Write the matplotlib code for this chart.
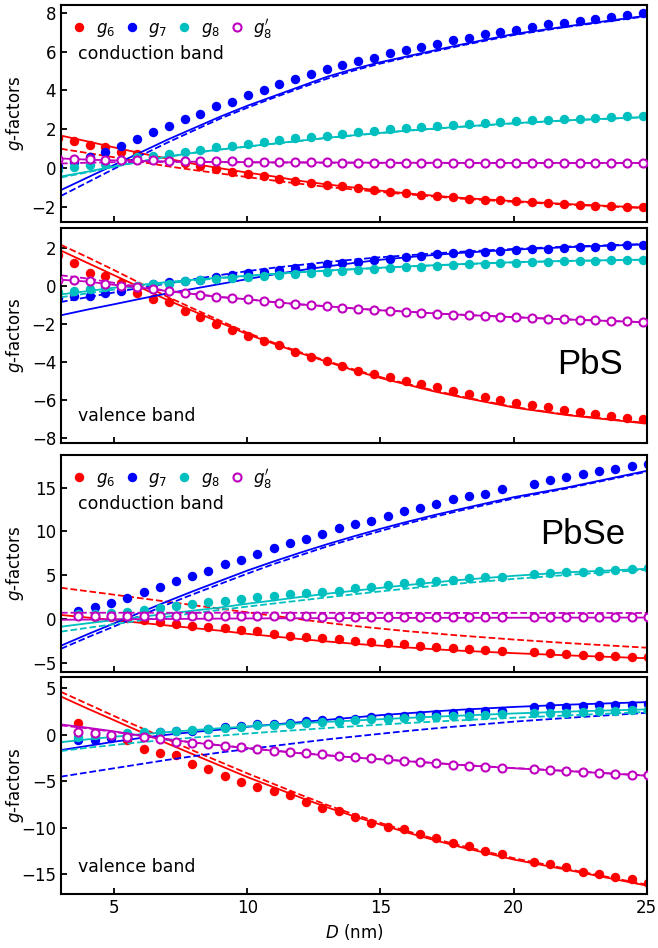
import matplotlib
matplotlib.use('Agg')
import matplotlib.pyplot as plt

plt.rcParams['font.family'] = 'DejaVu Sans'
plt.rcParams['mathtext.fontset'] = 'dejavusans'
plt.rcParams['font.size'] = 12

# dot sizes (nm) for the two materials, and the grid used for the model curves
D_pbs = [2.89, 3.48, 4.08, 4.67, 5.26, 5.86, 6.45, 7.05, 7.64, 8.23, 8.83, 9.42,
         10.01, 10.61, 11.20, 11.79, 12.39, 12.98, 13.57, 14.17, 14.76, 15.36,
         15.95, 16.54, 17.14, 17.73, 18.32, 18.92, 19.51, 20.10, 20.70, 21.29,
         21.88, 22.48, 23.07, 23.67, 24.26, 24.85]
D_pbse = [3.65, 4.26, 4.87, 5.48, 6.10, 6.71, 7.32, 7.93, 8.54, 9.15, 9.77, 10.38,
          10.99, 11.60, 12.21, 12.82, 13.43, 14.05, 14.66, 15.27, 15.88, 16.49,
          17.10, 17.72, 18.33, 18.94, 19.55, 20.77, 21.38, 21.99, 22.61, 23.22,
          23.83, 24.44, 25.05]
D_fit = [3, 4, 5, 6, 7, 8, 9, 10, 11, 12, 13, 14, 15, 16, 17, 18, 20, 22, 25]

# ---------------- PbS, conduction band ----------------
pbs_cb_g6 = [1.52, 1.37, 1.19, 1.06, 0.83, 0.70, 0.55, 0.40, 0.25, 0.07, -0.06, -0.20,
             -0.32, -0.45, -0.60, -0.67, -0.79, -0.88, -0.93, -1.05, -1.15, -1.24,
             -1.31, -1.39, -1.45, -1.51, -1.59, -1.64, -1.67, -1.72, -1.77, -1.81,
             -1.86, -1.90, -1.95, -1.98, -2.02, -2.05]
pbs_cb_g7 = [0.10, 0.30, 0.55, 0.80, 1.14, 1.49, 1.83, 2.18, 2.53, 2.79, 3.17, 3.42,
             3.74, 4.03, 4.34, 4.56, 4.82, 5.08, 5.29, 5.50, 5.69, 5.93, 6.07, 6.24,
             6.41, 6.59, 6.70, 6.88, 7.02, 7.12, 7.26, 7.40, 7.48, 7.59, 7.69, 7.79,
             7.87, 7.97]
pbs_cb_g8 = [-0.10, 0.02, 0.14, 0.22, 0.38, 0.54, 0.63, 0.71, 0.80, 0.92, 1.06, 1.14,
             1.23, 1.33, 1.42, 1.52, 1.60, 1.66, 1.75, 1.83, 1.92, 2.01, 2.06, 2.13,
             2.18, 2.23, 2.27, 2.32, 2.35, 2.40, 2.46, 2.49, 2.51, 2.54, 2.58, 2.61,
             2.65, 2.66]
pbs_cb_g8p = [0.45, 0.47, 0.45, 0.42, 0.40, 0.40, 0.38, 0.37, 0.36, 0.35, 0.34, 0.33,
              0.32, 0.31, 0.30, 0.30, 0.29, 0.28, 0.27, 0.27, 0.26, 0.26, 0.26, 0.25,
              0.25, 0.25, 0.25, 0.25, 0.25, 0.25, 0.25, 0.25, 0.25, 0.25, 0.25, 0.25,
              0.25, 0.25]
pbs_cb_g6_fit = [1.66, 1.36, 1.05, 0.75, 0.47, 0.20, -0.03, -0.25, -0.45, -0.68, -0.86,
                 -1.02, -1.18, -1.32, -1.44, -1.55, -1.72, -1.87, -2.06]
pbs_cb_g6_fit2 = [0.98, 0.76, 0.54, 0.30, 0.08, -0.12, -0.30, -0.48, -0.66, -0.83, -0.99,
                  -1.12, -1.25, -1.37, -1.48, -1.59, -1.76, -1.90, -2.09]
pbs_cb_g7_fit = [-1.15, -0.50, 0.15, 0.80, 1.45, 2.05, 2.65, 3.20, 3.70, 4.20, 4.70,
                 5.10, 5.45, 5.75, 6.05, 6.35, 6.90, 7.30, 7.85]
pbs_cb_g7_fit2 = [-1.45, -0.75, -0.05, 0.63, 1.30, 1.93, 2.55, 3.10, 3.62, 4.12, 4.60,
                  5.02, 5.38, 5.70, 6.00, 6.30, 6.85, 7.27, 7.82]
pbs_cb_g8_fit = [-0.45, -0.20, 0.07, 0.33, 0.58, 0.78, 0.95, 1.10, 1.25, 1.40, 1.55,
                 1.68, 1.80, 1.92, 2.02, 2.12, 2.30, 2.45, 2.62]
pbs_cb_g8_fit2 = [-0.50, -0.23, 0.05, 0.32, 0.56, 0.77, 0.94, 1.09, 1.24, 1.39, 1.54,
                  1.67, 1.79, 1.91, 2.01, 2.11, 2.29, 2.44, 2.61]
pbs_cb_g8p_fit = [0.48, 0.42, 0.38, 0.35, 0.33, 0.31, 0.30, 0.29, 0.28, 0.28, 0.27,
                  0.27, 0.26, 0.26, 0.26, 0.25, 0.25, 0.25, 0.25]
pbs_cb_g8p_fit2 = [0.22, 0.26, 0.29, 0.30, 0.30, 0.30, 0.29, 0.28, 0.27, 0.27, 0.26,
                   0.26, 0.25, 0.25, 0.25, 0.24, 0.24, 0.24, 0.24]

# ---------------- PbS, valence band ----------------
pbs_vb_g6 = [1.62, 1.20, 0.67, 0.49, 0.16, -0.40, -0.70, -0.86, -1.31, -1.66, -2.03,
             -2.34, -2.63, -2.89, -3.12, -3.47, -3.76, -3.94, -4.20, -4.47, -4.64,
             -4.78, -5.01, -5.18, -5.34, -5.54, -5.69, -5.84, -6.01, -6.15, -6.27,
             -6.39, -6.54, -6.66, -6.76, -6.85, -6.94, -7.03]
pbs_vb_g7 = [-0.62, -0.55, -0.55, -0.40, -0.26, -0.06, 0.10, 0.20, 0.24, 0.32, 0.45,
             0.55, 0.66, 0.74, 0.83, 0.92, 1.01, 1.13, 1.18, 1.27, 1.36, 1.41, 1.50,
             1.58, 1.66, 1.71, 1.74, 1.79, 1.85, 1.88, 1.92, 1.95, 1.98, 2.02, 2.05,
             2.09, 2.14, 2.17]
pbs_vb_g8 = [-0.35, -0.26, -0.17, -0.08, -0.02, 0.00, 0.07, 0.12, 0.23, 0.29, 0.35,
             0.41, 0.47, 0.54, 0.57, 0.62, 0.66, 0.71, 0.77, 0.83, 0.88, 0.92, 0.97,
             1.01, 1.04, 1.09, 1.13, 1.16, 1.18, 1.22, 1.24, 1.27, 1.29, 1.31, 1.32,
             1.34, 1.36, 1.38]
pbs_vb_g8p = [0.31, 0.30, 0.23, 0.09, -0.02, -0.07, -0.16, -0.30, -0.39, -0.48, -0.57,
              -0.66, -0.71, -0.80, -0.89, -0.96, -1.01, -1.08, -1.15, -1.21, -1.27,
              -1.31, -1.36, -1.42, -1.47, -1.52, -1.55, -1.59, -1.63, -1.66, -1.69,
              -1.73, -1.76, -1.80, -1.82, -1.84, -1.87, -1.91]
pbs_vb_g6_fit = [1.85, 1.20, 0.55, -0.10, -0.75, -1.35, -1.95, -2.55, -3.05, -3.55,
                 -4.00, -4.45, -4.85, -5.20, -5.55, -5.85, -6.40, -6.80, -7.25]
pbs_vb_g6_fit2 = [2.15, 1.50, 0.82, 0.12, -0.58, -1.22, -1.85, -2.47, -3.00, -3.50,
                  -3.96, -4.40, -4.80, -5.16, -5.50, -5.82, -6.37, -6.78, -7.22]
pbs_vb_g7_fit = [-1.55, -1.25, -0.97, -0.68, -0.40, -0.15, 0.10, 0.35, 0.60, 0.82,
                 1.02, 1.20, 1.37, 1.50, 1.62, 1.73, 1.90, 2.03, 2.18]
pbs_vb_g7_fit2 = [-0.85, -0.60, -0.35, -0.10, 0.12, 0.35, 0.57, 0.77, 0.95, 1.10,
                  1.25, 1.38, 1.50, 1.60, 1.70, 1.79, 1.94, 2.06, 2.20]
pbs_vb_g8_fit = [-0.45, -0.28, -0.10, 0.05, 0.20, 0.32, 0.43, 0.53, 0.63, 0.72, 0.80,
                 0.88, 0.95, 1.02, 1.08, 1.14, 1.24, 1.31, 1.38]
pbs_vb_g8_fit2 = [-0.60, -0.40, -0.20, -0.02, 0.14, 0.28, 0.40, 0.51, 0.61, 0.71,
                  0.79, 0.87, 0.94, 1.01, 1.07, 1.13, 1.23, 1.30, 1.37]
pbs_vb_g8p_fit = [0.32, 0.22, 0.05, -0.10, -0.28, -0.44, -0.60, -0.71, -0.86, -0.98,
                  -1.08, -1.19, -1.29, -1.36, -1.45, -1.52, -1.65, -1.77, -1.92]
pbs_vb_g8p_fit2 = [0.55, 0.38, 0.15, -0.06, -0.26, -0.43, -0.59, -0.71, -0.86, -0.98,
                   -1.08, -1.19, -1.29, -1.36, -1.45, -1.52, -1.65, -1.77, -1.92]

# ---------------- PbSe, conduction band ----------------
pbse_cb_g6 = [0.45, 0.32, 0.22, 0.10, -0.08, -0.27, -0.49, -0.73, -0.88, -1.02, -1.16,
              -1.29, -1.67, -1.86, -1.98, -2.09, -2.24, -2.47, -2.55, -2.73, -2.84,
              -3.00, -3.11, -3.23, -3.38, -3.49, -3.60, -3.75, -3.86, -3.98, -4.06,
              -4.14, -4.20, -4.28, -4.32]
pbse_cb_g7 = [0.98, 1.36, 1.86, 2.45, 3.10, 3.70, 4.33, 4.92, 5.55, 6.32, 6.78, 7.42,
              8.07, 8.70, 9.20, 9.69, 10.34, 10.80, 11.17, 11.77, 12.31, 12.68, 13.10,
              13.64, 14.01, 14.32, 14.81, 15.45, 15.91, 16.20, 16.59, 16.85, 17.16,
              17.42, 17.73]
pbse_cb_g8 = [0.62, 0.66, 0.72, 0.83, 1.06, 1.25, 1.49, 1.72, 1.96, 2.14, 2.33, 2.57,
              2.68, 2.84, 3.02, 3.14, 3.25, 3.52, 3.70, 3.90, 4.09, 4.27, 4.35, 4.50,
              4.66, 4.77, 4.84, 5.18, 5.30, 5.34, 5.41, 5.52, 5.60, 5.72, 5.80]
pbse_cb_g8p = [0.40, 0.38, 0.37, 0.36, 0.36, 0.35, 0.35, 0.35, 0.34, 0.34, 0.34, 0.33,
               0.33, 0.33, 0.33, 0.32, 0.32, 0.32, 0.31, 0.31, 0.31, 0.31, 0.30, 0.30,
               0.30, 0.30, 0.30, 0.30, 0.30, 0.30, 0.30, 0.30, 0.30, 0.30, 0.30]
pbse_cb_g6_fit = [0.50, 0.20, -0.10, -0.40, -0.70, -1.00, -1.30, -1.65, -1.95, -2.25,
                  -2.52, -2.78, -3.00, -3.20, -3.40, -3.57, -3.85, -4.10, -4.43]
pbse_cb_g6_fit2 = [3.59, 3.20, 2.80, 2.40, 2.00, 1.60, 1.20, 0.80, 0.40, 0.00, -0.40,
                   -0.75, -1.05, -1.35, -1.60, -1.85, -2.30, -2.70, -3.23]
pbse_cb_g7_fit = [-3.00, -1.70, -0.45, 0.80, 2.05, 3.25, 4.40, 5.55, 6.60, 7.60, 8.55,
                  9.45, 10.30, 11.10, 11.85, 12.55, 13.90, 15.00, 16.90]
pbse_cb_g7_fit2 = [-3.35, -2.05, -0.80, 0.45, 1.70, 2.90, 4.05, 5.20, 6.30, 7.30, 8.30,
                   9.20, 10.05, 10.90, 11.65, 12.38, 13.75, 14.90, 16.80]
pbse_cb_g8_fit = [-0.84, -0.45, -0.08, 0.28, 0.64, 1.00, 1.35, 1.78, 2.15, 2.55, 2.92,
                  3.25, 3.58, 3.90, 4.20, 4.48, 4.95, 5.35, 5.75]
pbse_cb_g8_fit2 = [-1.40, -0.97, -0.55, -0.12, 0.30, 0.70, 1.08, 1.45, 1.80, 2.15,
                   2.50, 2.85, 3.18, 3.50, 3.80, 4.08, 4.60, 5.05, 5.65]
pbse_cb_g8p_fit = [-0.05, -0.03, 0.00, 0.02, 0.04, 0.06, 0.08, 0.10, 0.11, 0.12, 0.13,
                   0.14, 0.15, 0.16, 0.17, 0.17, 0.18, 0.19, 0.20]
pbse_cb_g8p_fit2 = [0.75, 0.75, 0.75, 0.75, 0.75, 0.75, 0.75, 0.75, 0.75, 0.74, 0.74,
                    0.74, 0.74, 0.73, 0.73, 0.73, 0.73, 0.72, 0.72]

# ---------------- PbSe, valence band ----------------
pbse_vb_g6 = [1.21, 0.00, -0.25, -0.58, -1.57, -2.01, -2.20, -3.12, -3.72, -4.44,
              -5.07, -5.66, -6.02, -6.48, -7.26, -7.90, -8.19, -8.87, -9.45, -9.94,
              -10.16, -10.69, -11.12, -11.59, -11.95, -12.45, -12.80, -13.63, -13.87,
              -14.23, -14.70, -14.98, -15.24, -15.51, -15.88]
pbse_vb_g7 = [-0.55, -0.62, -0.40, -0.20, 0.08, 0.25, 0.35, 0.45, 0.58, 0.80, 0.90,
              1.10, 1.20, 1.31, 1.45, 1.56, 1.56, 1.74, 1.91, 1.91, 2.02, 2.10, 2.27,
              2.34, 2.45, 2.56, 2.56, 2.99, 3.06, 2.99, 3.09, 3.17, 3.20, 3.24, 3.35]
pbse_vb_g8 = [-0.20, -0.05, -0.05, 0.13, 0.24, 0.31, 0.40, 0.52, 0.57, 0.70, 0.80,
              1.00, 1.09, 1.20, 1.27, 1.38, 1.38, 1.56, 1.67, 1.67, 1.81, 1.91, 1.91,
              1.99, 1.99, 2.10, 2.20, 2.34, 2.38, 2.38, 2.45, 2.52, 2.56, 2.63, 2.70]
pbse_vb_g8p = [0.31, 0.22, -0.05, -0.23, -0.23, -0.48, -0.77, -0.90, -1.01, -1.21,
               -1.33, -1.55, -1.76, -1.84, -2.01, -2.12, -2.30, -2.44, -2.55, -2.65,
               -2.83, -2.97, -3.08, -3.26, -3.34, -3.45, -3.55, -3.72, -3.80, -3.91,
               -4.01, -4.09, -4.23, -4.34, -4.37]
pbse_vb_g6_fit = [4.10, 2.80, 1.55, 0.30, -0.95, -2.15, -3.35, -4.55, -5.65, -6.75,
                  -7.80, -8.75, -9.65, -10.50, -11.30, -12.05, -13.40, -14.50, -16.20]
pbse_vb_g6_fit2 = [4.60, 3.30, 2.00, 0.75, -0.50, -1.75, -2.95, -4.15, -5.30, -6.45,
                   -7.55, -8.55, -9.47, -10.35, -11.15, -11.90, -13.25, -14.40, -16.10]
pbse_vb_g7_fit = [-1.65, -1.20, -0.75, -0.35, 0.00, 0.30, 0.55, 0.85, 1.10, 1.35, 1.60,
                  1.85, 2.10, 2.30, 2.50, 2.68, 2.98, 3.22, 3.50]
pbse_vb_g7_fit2 = [-4.50, -4.05, -3.60, -3.15, -2.70, -2.30, -1.90, -1.55, -1.20, -0.85,
                   -0.50, -0.20, 0.10, 0.40, 0.67, 0.92, 1.40, 1.80, 2.35]
pbse_vb_g8_fit = [-0.80, -0.50, -0.22, 0.05, 0.28, 0.50, 0.70, 0.88, 1.05, 1.22, 1.38,
                  1.52, 1.66, 1.80, 1.93, 2.05, 2.28, 2.48, 2.72]
pbse_vb_g8_fit2 = [-1.75, -1.40, -1.10, -0.80, -0.55, -0.30, -0.10, 0.12, 0.33, 0.52,
                   0.72, 0.90, 1.08, 1.25, 1.40, 1.55, 1.82, 2.07, 2.45]
pbse_vb_g8p_fit = [1.10, 0.75, 0.35, -0.10, -0.50, -0.85, -1.15, -1.45, -1.72, -2.00,
                   -2.22, -2.45, -2.65, -2.85, -3.04, -3.25, -3.60, -3.90, -4.40]
pbse_vb_g8p_fit2 = [1.00, 0.68, 0.30, -0.12, -0.50, -0.84, -1.14, -1.43, -1.70, -1.98,
                    -2.20, -2.43, -2.63, -2.83, -3.02, -3.23, -3.58, -3.88, -4.38]

colors = ['r', 'b', 'c', 'm']
labels = ['$g_6$', '$g_7$', '$g_8$', "$g_8'$"]

panels = [
    (D_pbs, [pbs_cb_g6, pbs_cb_g7, pbs_cb_g8, pbs_cb_g8p],
     [pbs_cb_g6_fit, pbs_cb_g7_fit, pbs_cb_g8_fit, pbs_cb_g8p_fit],
     [pbs_cb_g6_fit2, pbs_cb_g7_fit2, pbs_cb_g8_fit2, pbs_cb_g8p_fit2]),
    (D_pbs, [pbs_vb_g6, pbs_vb_g7, pbs_vb_g8, pbs_vb_g8p],
     [pbs_vb_g6_fit, pbs_vb_g7_fit, pbs_vb_g8_fit, pbs_vb_g8p_fit],
     [pbs_vb_g6_fit2, pbs_vb_g7_fit2, pbs_vb_g8_fit2, pbs_vb_g8p_fit2]),
    (D_pbse, [pbse_cb_g6, pbse_cb_g7, pbse_cb_g8, pbse_cb_g8p],
     [pbse_cb_g6_fit, pbse_cb_g7_fit, pbse_cb_g8_fit, pbse_cb_g8p_fit],
     [pbse_cb_g6_fit2, pbse_cb_g7_fit2, pbse_cb_g8_fit2, pbse_cb_g8p_fit2]),
    (D_pbse, [pbse_vb_g6, pbse_vb_g7, pbse_vb_g8, pbse_vb_g8p],
     [pbse_vb_g6_fit, pbse_vb_g7_fit, pbse_vb_g8_fit, pbse_vb_g8p_fit],
     [pbse_vb_g6_fit2, pbse_vb_g7_fit2, pbse_vb_g8_fit2, pbse_vb_g8p_fit2]),
]

ylims = [(-2.8, 8.4), (-8.27, 3.04), (-6.0, 18.7), (-17.1, 6.2)]
yticks = [[-2, 0, 2, 4, 6, 8], [-8, -6, -4, -2, 0, 2],
          [-5, 0, 5, 10, 15], [-15, -10, -5, 0, 5]]
# axes rectangles in figure fractions
rects = [[0.0927, 0.7658, 0.890, 0.2289],
         [0.0927, 0.5327, 0.890, 0.2268],
         [0.0927, 0.2911, 0.890, 0.2289],
         [0.0927, 0.0570, 0.890, 0.2289]]

fig = plt.figure(figsize=(6.58, 9.48), dpi=100)
axes = []
for p, (D_dots, dots, solid, dashed) in enumerate(panels):
    ax = fig.add_axes(rects[p])
    axes.append(ax)
    for i, c in enumerate(colors):
        if c == 'm':
            ax.plot(D_dots, dots[i], 'o', ls='none', mfc='white', mec=c, ms=5.8,
                    mew=1.5, label=labels[i], zorder=3)
        else:
            ax.plot(D_dots, dots[i], 'o', ls='none', color=c, ms=6.8,
                    mec='none', label=labels[i])
        ax.plot(D_fit, solid[i], '-', color=c, lw=1.3)
        ax.plot(D_fit, dashed[i], '--', color=c, lw=1.3)
    ax.set_xlim(3, 25)
    ax.set_ylim(*ylims[p])
    ax.set_xticks([5, 10, 15, 20, 25])
    ax.set_yticks(yticks[p])
    ax.tick_params(direction='in', length=4, width=1.3, labelsize=12)
    for s in ax.spines.values():
        s.set_linewidth(1.5)
    ax.set_ylabel('$g$-factors', fontsize=12)
    # same label column for every panel (coords give the label's right edge)
    ax.yaxis.set_label_coords(-0.06, 0.5)
    if p < 3:
        ax.tick_params(labelbottom=False)

for p in (0, 2):
    axes[p].legend(loc='upper left', ncol=4, frameon=False, fontsize=12,
                   handlelength=0.8, handletextpad=0.6, columnspacing=0.6,
                   borderaxespad=0.3)
    axes[p].text(0.029, 0.775, 'conduction band', transform=axes[p].transAxes,
                 ha='left', va='center', fontsize=12.5)
for p in (1, 3):
    axes[p].text(0.029, 0.124, 'valence band', transform=axes[p].transAxes,
                 ha='left', va='center', fontsize=12.5)

axes[1].text(0.903, 0.363, 'PbS', transform=axes[1].transAxes, ha='center',
             va='center', fontsize=25, family='Liberation Sans')
axes[2].text(0.89, 0.636, 'PbSe', transform=axes[2].transAxes, ha='center',
             va='center', fontsize=25, family='Liberation Sans')

axes[3].set_xlabel('$D$ (nm)', fontsize=12)

fig.savefig('out.png', dpi=100)
